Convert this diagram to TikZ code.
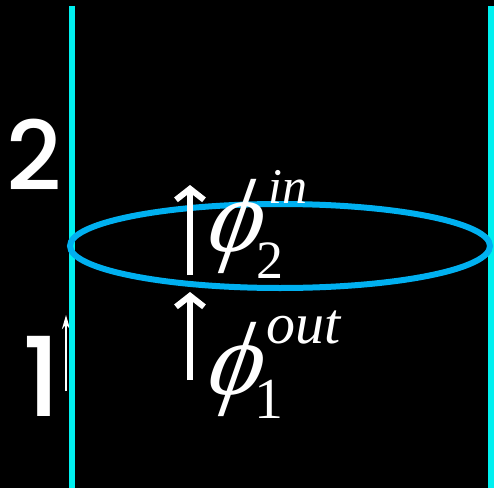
\documentclass[tikz,border=0pt]{standalone}
\usepackage{fontspec}
\setmainfont{Liberation Serif}
\newfontfamily\handfont{Poppins}[UprightFont={* Medium}]
\newfontfamily\greekfont{Liberation Serif}[FakeSlant=0.35]
\usetikzlibrary{arrows.meta, shapes.geometric}
\definecolor{WireCyan}{RGB}{0,240,240}
\definecolor{LoopBlue}{RGB}{0,176,240}

\begin{document}
\begin{tikzpicture}[x=1pt, y=1pt,
          wire/.style={draw=WireCyan, line width=6.5pt},
          loop/.style={draw=LoopBlue, line width=6pt},
          flux/.style={draw=white, line width=6pt,
                       -{Straight Barb[length=11pt, width=28pt, line width=6pt]}},
          phi/.style={inner sep=0pt, text=white},
          idx/.style={inner sep=0pt, text=white, anchor=base west}
        ]
        % background
        \fill[black] (0,0) rectangle (494,488);
        \useasboundingbox (0,0) rectangle (494,488);

        % region labels
        \node[phi, font=\handfont\fontsize{96}{96}\selectfont] (lab2) at (34,333) {2};
        \node[phi, font=\handfont\fontsize{110}{110}\selectfont] (lab1) at (42,112) {1};

        % small mark beside the 1
        \coordinate (m1) at (66,97);
        \coordinate (m2) at (66,173);
        \draw[white, line width=2.4pt, -{Stealth[length=14pt, width=8pt]}] (m1) -- (m2);

        % wires
        \coordinate (wl1) at (72,482);
        \coordinate (wl2) at (72,0);
        \coordinate (wr1) at (491,482);
        \coordinate (wr2) at (491,0);
        \draw[wire] (wl1) -- (wl2);
        \draw[wire] (wr1) -- (wr2);

        % the loop
        \node[loop, ellipse, minimum width=420pt, minimum height=84pt, inner sep=0pt]
              (ring) at (280,242) {};

        % flux arrows
        \coordinate (a1) at (190,213);
        \coordinate (a2) at (190,303);
        \coordinate (b1) at (190,108);
        \coordinate (b2) at (190,196);
        \draw[flux] (a1) -- (a2);
        \draw[flux] (b1) -- (b2);

        % phi_2^in
        \node[phi, font=\greekfont\fontsize{104}{104}\selectfont] (phi2) at (229,262) {ϕ};
        \node[idx, font=\fontsize{54}{54}\selectfont] (sub2) at (256,210) {2};
        \node[idx, font=\itshape\fontsize{50}{50}\selectfont] (sup2) at (268,285) {in};

        % phi_1^out
        \node[phi, font=\greekfont\fontsize{104}{104}\selectfont] (phi1) at (229,119) {ϕ};
        \node[idx, font=\fontsize{58}{58}\selectfont] (sub1) at (254,70) {1};
        \node[idx, font=\itshape\fontsize{58}{58}\selectfont] (sup1) at (266,145) {out};
      \end{tikzpicture}
\end{document}
